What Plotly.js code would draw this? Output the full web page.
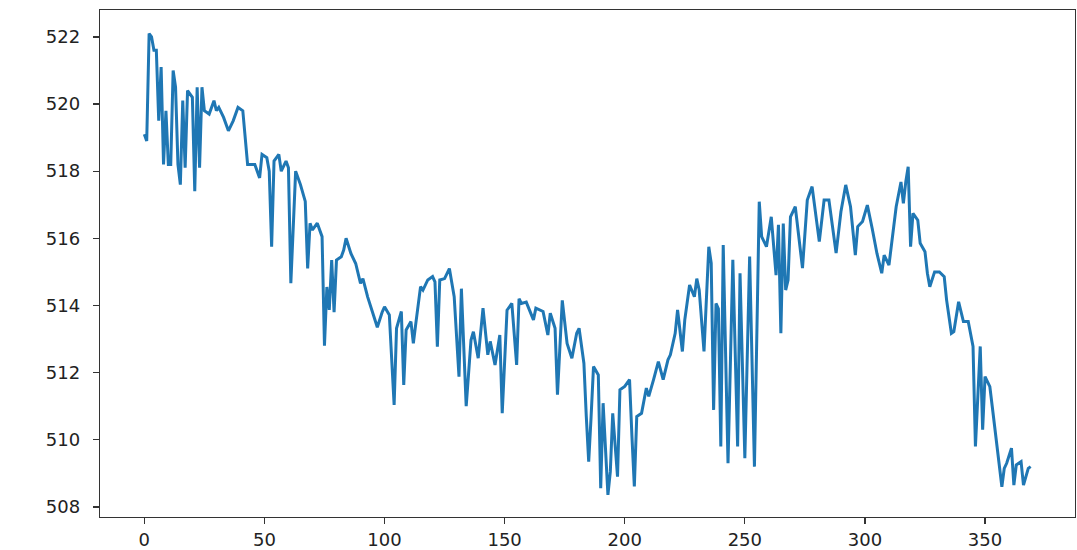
<!DOCTYPE html>
<html>
<head>
<meta charset="utf-8">
<script src="https://cdn.plot.ly/plotly-3.0.1.min.js"></script>
<style>html,body{margin:0;padding:0;background:#fff;}#chart{width:1077px;height:550px;}</style>
</head>
<body>
<div id="chart"></div>
<script>
const xIndex = [0,1,2,3,4,5,6,7,8,9,10,11,12,13,14,15,16,17,18,19,20,21,22,23,24,25,27,29,30,31,33,35,37,39,41,43,45,46,48,49,51,52,53,54,56,57,59,60,61,63,65,67,68,69,70,72,74,75,76,77,78,79,80,82,83,84,86,88,90,91,93,95,97,99,100,102,104,105,107,108,109,111,112,113,115,116,118,120,121,122,123,125,127,129,131,132,134,136,137,139,141,143,144,146,148,149,151,153,155,156,157,159,162,163,166,168,169,171,172,174,176,178,180,181,183,184,185,186,187,189,190,191,193,194,195,197,198,200,202,203,204,205,207,209,210,212,214,216,218,219,221,222,224,225,227,229,230,231,233,235,236,237,238,239,240,241,243,245,247,248,250,252,254,256,257,259,261,263,264,265,266,267,268,269,271,274,276,278,281,283,285,288,290,292,294,296,297,299,301,303,305,307,308,310,312,313,315,316,317,318,319,320,322,323,325,326,327,329,331,333,334,336,337,339,341,343,345,346,348,349,350,352,353,355,357,358,359,361,362,363,365,366,368,369];
const values = [519.1,518.9,522.1,522.0,521.6,521.6,519.5,521.1,518.2,519.8,518.2,518.2,521.0,520.5,518.2,517.6,520.1,518.1,520.4,520.3,520.2,517.4,520.5,518.1,520.5,519.8,519.7,520.1,519.8,519.9,519.6,519.2,519.5,519.9,519.8,518.2,518.2,518.2,517.8,518.5,518.4,518.0,515.75,518.3,518.5,518.0,518.3,518.1,514.66,518.0,517.6,517.1,515.1,516.45,516.25,516.45,516.05,512.8,514.55,513.87,515.35,513.8,515.35,515.45,515.65,516.0,515.55,515.25,514.66,514.8,514.25,513.8,513.35,513.8,513.96,513.72,511.04,513.32,513.82,511.63,513.27,513.52,512.87,513.45,514.56,514.46,514.76,514.86,514.7,512.77,514.76,514.8,515.1,514.26,511.88,514.5,511.0,512.97,513.22,512.43,513.92,512.53,512.93,512.23,513.12,510.79,513.86,514.06,512.23,514.2,514.06,514.1,513.57,513.92,513.82,513.12,513.77,513.32,511.34,514.15,512.87,512.43,513.17,513.32,512.28,510.69,509.35,510.69,512.18,511.93,508.56,511.09,508.36,509.05,510.79,508.9,511.49,511.59,511.79,510.1,508.61,510.69,510.79,511.54,511.29,511.79,512.33,511.79,512.38,512.53,513.17,513.87,512.63,513.57,514.61,514.26,514.8,514.46,512.63,515.75,515.26,510.89,514.06,513.9,509.8,515.8,509.3,515.36,509.8,514.96,509.45,515.46,509.2,517.09,516.05,515.75,516.64,514.9,516.4,513.17,516.44,514.46,514.76,516.64,516.94,515.11,517.14,517.54,515.9,517.14,517.14,515.56,516.79,517.59,516.94,515.5,516.35,516.5,516.99,516.3,515.55,514.96,515.5,515.2,516.25,516.94,517.68,517.04,517.68,518.13,515.75,516.74,516.54,515.85,515.6,514.96,514.56,515.0,515.0,514.86,514.16,513.17,513.22,514.11,513.52,513.52,512.78,509.8,512.78,510.3,511.88,511.58,510.99,509.7,508.6,509.15,509.3,509.75,508.65,509.25,509.35,508.65,509.15,509.2];
const xTicks = [0,50,100,150,200,250,300,350];
const yTicks = [508,510,512,514,516,518,520,522];

const trace = {
  x: xIndex, y: values, type: 'scatter', mode: 'lines',
  line: {color: '#1f77b4', width: 3}, hoverinfo: 'skip'
};
const axisCommon = {
  showgrid: false, zeroline: false, showline: true, mirror: true,
  linecolor: '#333', linewidth: 1.3,
  ticks: 'outside', ticklen: 6, tickwidth: 1.3, tickcolor: '#333',
  tickfont: {family: 'DejaVu Sans', size: 18, color: '#222'}
};
const layout = {
  width: 1077, height: 550,
  margin: {l: 100, r: 2, t: 10, b: 33},
  paper_bgcolor: '#fff', plot_bgcolor: '#fff',
  showlegend: false,
  xaxis: Object.assign({}, axisCommon, {range: [-18.45, 387.45], tickmode: 'array', tickvals: xTicks, ticktext: xTicks.map(String), ticklabelstandoff: 0}),
  yaxis: Object.assign({}, axisCommon, {range: [507.7, 522.8], tickmode: 'array', tickvals: yTicks, ticktext: yTicks.map(String), ticklabelstandoff: 9})
};
Plotly.newPlot('chart', [trace], layout, {staticPlot: true, displayModeBar: false});
</script>
</body>
</html>
